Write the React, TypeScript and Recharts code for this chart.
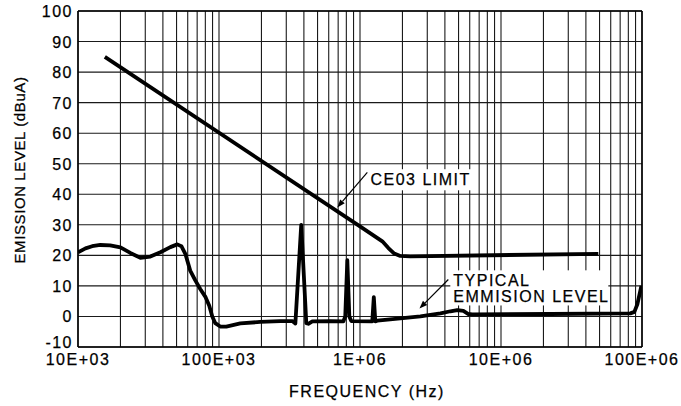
import { LineChart, Line, XAxis, YAxis, CartesianGrid, ReferenceArea, ReferenceLine, Label } from 'recharts'

const FONT = '"Liberation Sans", Arial, sans-serif'

// axis ticks
const freqTicks = [1e4, 1e5, 1e6, 1e7, 1e8]
const freqTickLabels = ['10E+03', '100E+03', '1E+06', '10E+06', '100E+06']
const levelTicks = [-10, 0, 10, 20, 30, 40, 50, 60, 70, 80, 90, 100]

// log grid: 1..9 in every decade
const gridFreqs: number[] = []
for (let d = 4; d < 8; d++) for (let m = 1; m < 10; m++) gridFreqs.push(m * 10 ** d)
gridFreqs.push(1e8)

// CE03 limit (Hz, dBuA)
const limitFreq = [15.5e3, 1.0e6, 1.44e6, 1.59e6, 1.75e6, 1.93e6, 2.27e6, 49e6]
const limitLevel = [85, 29.5, 24.6, 22.4, 20.6, 19.8, 19.7, 20.5]

// typical emission (Hz, dBuA)
const emissionFreq = [
  10e3, 11.3e3, 12.6e3, 14.4e3, 16.9e3, 20e3, 23.5e3, 27.7e3, 32.6e3, 38.4e3, 45.2e3, 50.6e3, 54.1e3,
  57.7e3, 62.5e3, 67.9e3, 73.6e3, 79.9e3, 85.3e3, 89.6e3, 94.1e3, 102e3, 112.7e3, 141.6e3, 196e3,
  272e3, 331e3, 348e3, 383e3, 416e3, 430e3, 459e3, 616e3, 762e3, 786e3, 813e3, 840e3, 867e3,
  1.222e6, 1.253e6, 1.284e6, 1.327e6, 1.93e6, 2.68e6, 3.72e6, 4.38e6, 4.9e6, 5.41e6, 5.87e6, 6.26e6,
  22.4e6, 82.7e6, 88.3e6, 92.7e6, 99e6,
]
const emissionLevel = [
  21, 22.3, 23.0, 23.4, 23.3, 22.6, 20.8, 19.2, 19.6, 21.0, 22.7, 23.6, 23.0,
  20.5, 15.0, 11.8, 9.0, 6.5, 3.5, 0.0, -2.2, -3.3, -3.3, -2.3, -1.8,
  -1.5, -1.5, -2.3, 30, -2.2, -2.4, -1.6, -1.5, -1.6, 0, 18.4, 0, -1.5,
  -1.6, 6.3, -1.6, -1.4, -0.6, 0.0, 1.0, 1.7, 2.1, 1.8, 0.8, 0.7,
  0.8, 1.0, 1.5, 4, 10,
]

// annotations
const limitNote = ['CE03  LIMIT']
const limitNoteBox = { f1: 1.13e6, f2: 6.4e6, v1: 41.3, v2: 48.2 }
const limitArrow = { from: [1.127e6, 47.2], to: [690e3, 35.7] }
const emissionNote = ['TYPICAL', 'EMMISION  LEVEL']
const emissionNoteBox = { f1: 4.37e6, f2: 57.7e6, v1: 3.6, v2: 15.1 }
const emissionArrow = { from: [4.23e6, 12.1], to: [2.64e6, 2.6] }

const limitData = limitFreq.map((f, i) => ({ f, v: limitLevel[i] }))
const emissionData = emissionFreq.map((f, i) => ({ f, v: emissionLevel[i] }))

const textStyle = { fontFamily: FONT, fontSize: 16, letterSpacing: 1.5, fill: '#000', stroke: '#000', strokeWidth: 0.25 }

const XTick = ({ x, y, payload }: any) => {
  const i = freqTicks.indexOf(payload.value)
  return (
    <text x={x} y={y + 18} textAnchor="middle" style={textStyle}>{freqTickLabels[i]}</text>
  )
}

// the bottom label sits a bit higher to clear the frequency labels
const YTick = ({ x, y, payload }: any) => (
  <text x={x - 5} y={y + (payload.value === -10 ? 1 : 6)} textAnchor="end" style={textStyle}>{payload.value}</text>
)

const Arrow = (p: any) => {
  const { x1, y1, x2, y2 } = p
  const a = Math.atan2(y2 - y1, x2 - x1)
  const L = 8, W = 3
  const bx = x2 - L * Math.cos(a), by = y2 - L * Math.sin(a)
  const pts = `${x2},${y2} ${bx + W * Math.sin(a)},${by - W * Math.cos(a)} ${bx - W * Math.sin(a)},${by + W * Math.cos(a)}`
  return (
    <g>
      <line x1={x1} y1={y1} x2={bx} y2={by} stroke="#000" strokeWidth={1.2} />
      <polygon points={pts} fill="#000" />
    </g>
  )
}

const noteShape = (lines: string[]) => (p: any) => (
  <g>
    <rect x={p.x} y={p.y} width={p.width} height={p.height} fill="#fff" />
    {lines.map((t, i) => (
      <text key={i} x={p.x + 3} y={p.y + 16 + i * 16} style={textStyle}>{t}</text>
    ))}
  </g>
)

export default function App() {
  return (
    <div style={{ position: 'absolute', left: 0, top: 0, background: '#fff' }}>
      <LineChart width={681} height={406} margin={{ top: 11, right: 39, bottom: 0, left: 0 }}>
        <CartesianGrid stroke="#1a1a1a" strokeWidth={1.1} verticalValues={gridFreqs} horizontalValues={levelTicks} />
        <XAxis
          dataKey="f" type="number" scale="log" domain={[1e4, 1e8]} ticks={freqTicks} allowDataOverflow
          height={59} tickSize={0} tickMargin={0} tickLine={false} axisLine={{ stroke: '#000', strokeWidth: 1.5 }}
          tick={<XTick />} interval={0}
        >
          <Label content={({ viewBox }: any) => (
            <text x={viewBox.x + viewBox.width / 2 + 7} y={viewBox.y + 50} textAnchor="middle" style={textStyle}>
              FREQUENCY (Hz)
            </text>
          )} />
        </XAxis>
        <YAxis
          type="number" domain={[-10, 100]} ticks={levelTicks} width={78} allowDataOverflow
          tickSize={0} tickMargin={0} tickLine={false} axisLine={{ stroke: '#000', strokeWidth: 1.5 }}
          tick={<YTick />} interval={0}
        >
          <Label content={() => (
            <text x={25} y={170} transform="rotate(-90 25 170)" textAnchor="middle"
              style={{ fontFamily: FONT, fontSize: 15, letterSpacing: 0.6, fill: '#000', stroke: '#000', strokeWidth: 0.25 }}>
              EMISSION LEVEL (dBuA)
            </text>
          )} />
        </YAxis>
        <ReferenceLine x={1e8} stroke="#000" strokeWidth={1.5} />
        <ReferenceLine y={100} stroke="#000" strokeWidth={1.5} />
        <ReferenceArea x1={limitNoteBox.f1} x2={limitNoteBox.f2} y1={limitNoteBox.v1} y2={limitNoteBox.v2}
          shape={noteShape(limitNote)} />
        <ReferenceArea x1={emissionNoteBox.f1} x2={emissionNoteBox.f2} y1={emissionNoteBox.v1} y2={emissionNoteBox.v2}
          shape={noteShape(emissionNote)} />
        <ReferenceLine segment={[{ x: limitArrow.from[0], y: limitArrow.from[1] }, { x: limitArrow.to[0], y: limitArrow.to[1] }]}
          shape={<Arrow />} />
        <ReferenceLine segment={[{ x: emissionArrow.from[0], y: emissionArrow.from[1] }, { x: emissionArrow.to[0], y: emissionArrow.to[1] }]}
          shape={<Arrow />} />
        <Line data={limitData} dataKey="v" type="linear" stroke="#000" strokeWidth={3.8} dot={false}
          strokeLinejoin="round" isAnimationActive={false} />
        <Line data={emissionData} dataKey="v" type="linear" stroke="#000" strokeWidth={3.8} dot={false}
          strokeLinejoin="round" isAnimationActive={false} />
      </LineChart>
    </div>
  )
}
